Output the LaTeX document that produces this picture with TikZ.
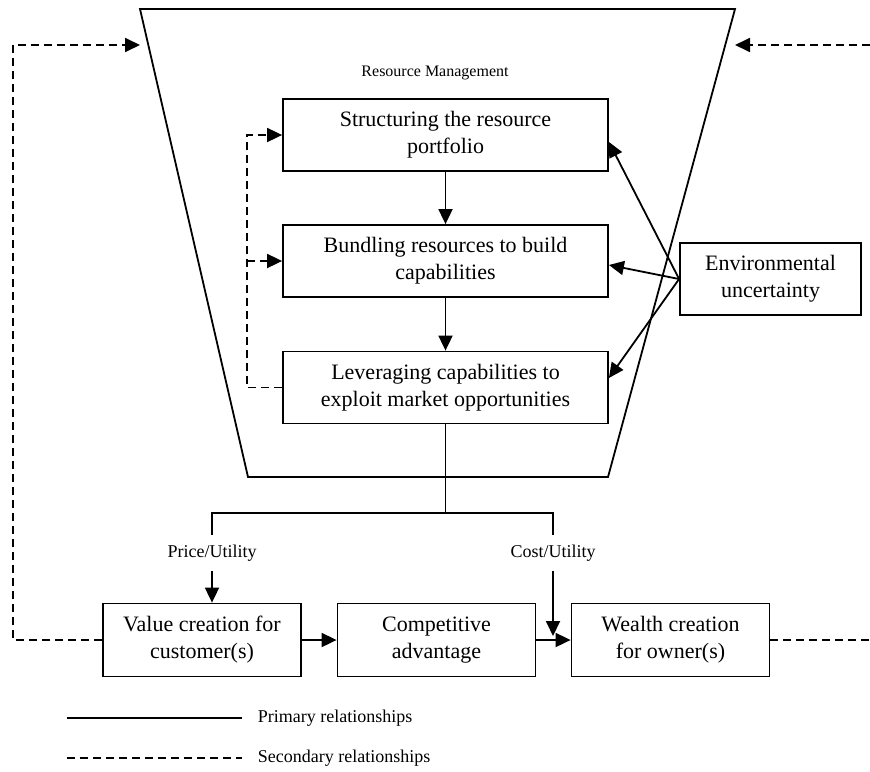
\documentclass[tikz,border=0pt]{standalone}
\usepackage{fontspec}
\setmainfont{Liberation Serif}
\usetikzlibrary{arrows.meta,positioning}
\tikzset{every path/.style={line width=0.9pt},
  box/.style={draw, align=center, inner sep=2pt, font=\fontsize{11}{13.5}\selectfont},
  lbl/.style={inner sep=4.5pt, font=\fontsize{9}{10}\selectfont},
  arr/.style={-{Triangle[length=7.5pt,width=7pt]}},
  dsh/.style={dash pattern=on 4pt off 2.5pt}}

\begin{document}
\begin{tikzpicture}[x=0.5pt,y=-0.5pt]
     \useasboundingbox (0,0) rectangle (870,771);
     % resource management funnel
     \draw (140,9) -- (735,9) -- (608,477) -- (248,477) -- cycle;
     \node[lbl, font=\fontsize{8}{10}\selectfont] (title) at (435,73) {Resource Management};
     \node[box, minimum width=162.5pt, minimum height=36pt] (struct) at (445.5,135) {Structuring the resource\\portfolio};
     \node[box, minimum width=162.5pt, minimum height=36pt] (bundle) at (445.5,261) {Bundling resources to build\\capabilities};
     \node[box, minimum width=162.5pt, minimum height=36pt] (leverage) at (445.5,387.5) {Leveraging capabilities to\\exploit market opportunities};
     \node[box, minimum width=90.5pt, minimum height=36pt] (env) at (770.5,279) {Environmental\\uncertainty};
     \draw[arr] (struct) -- (bundle);
     \draw[arr] (bundle) -- (leverage);
     \draw[arr] (env.west) -- ([yshift=-3.5pt]struct.east);
     \draw[arr] (env.west) -- ([yshift=-2pt]bundle.east);
     \draw[arr] (env.west) -- ([yshift=4.75pt]leverage.east);
     % secondary loop inside
     \coordinate (loopbot) at (247,387.5);
     \draw[dsh,arr] (leverage.west) -- (loopbot) |- (struct.west);
     \draw[dsh,arr] (loopbot |- bundle.west) -- (bundle.west);
     % outcomes
     \node[box, minimum width=99pt, minimum height=36.5pt] (value) at (202,640) {Value creation for\\customer(s)};
     \node[box, minimum width=99pt, minimum height=36.5pt] (compet) at (436.5,640) {Competitive\\advantage};
     \node[box, minimum width=99pt, minimum height=36.5pt] (wealth) at (670.5,640) {Wealth creation\\for owner(s)};
     \coordinate (split) at (445.5,513);
     \node[lbl] (price) at (212,553) {Price/Utility};
     \node[lbl] (cost) at (553,553) {Cost/Utility};
     \coordinate (costend) at (553,636);
     \draw (leverage.south) -- (split);
     \draw (price.north) -- (price |- split) -- (cost |- split) -- (cost.north);
     \draw[arr] (price.south) -- (price.south |- value.north);
     \draw[arr] (cost.south) -- (costend);
     \draw[arr] (value) -- (compet);
     \draw[arr] (compet) -- (wealth);
     % feedback to resource management
     \coordinate (fbL) at (13,45);
     \coordinate (tipL) at (140,45);
     \coordinate (fbR) at (870,45);
     \coordinate (tipR) at (735,45);
     \coordinate (outR) at (870,640);
     \draw[dsh,arr] (value.west) -| (fbL) -- (tipL);
     \draw[dsh] (wealth.east) -- (outR);
     \draw[dsh,arr] (fbR) -- (tipR);
     % legend
     \coordinate (solidA) at (67,718);
     \coordinate (solidB) at (242,718);
     \coordinate (dashA) at (67,758);
     \coordinate (dashB) at (242,758);
     \node[lbl, anchor=west] (primary) at (248,718) {Primary relationships};
     \node[lbl, anchor=west] (secondary) at (248,758) {Secondary relationships};
     \draw (solidA) -- (solidB);
     \draw[dsh] (dashA) -- (dashB);
\end{tikzpicture}
\end{document}
